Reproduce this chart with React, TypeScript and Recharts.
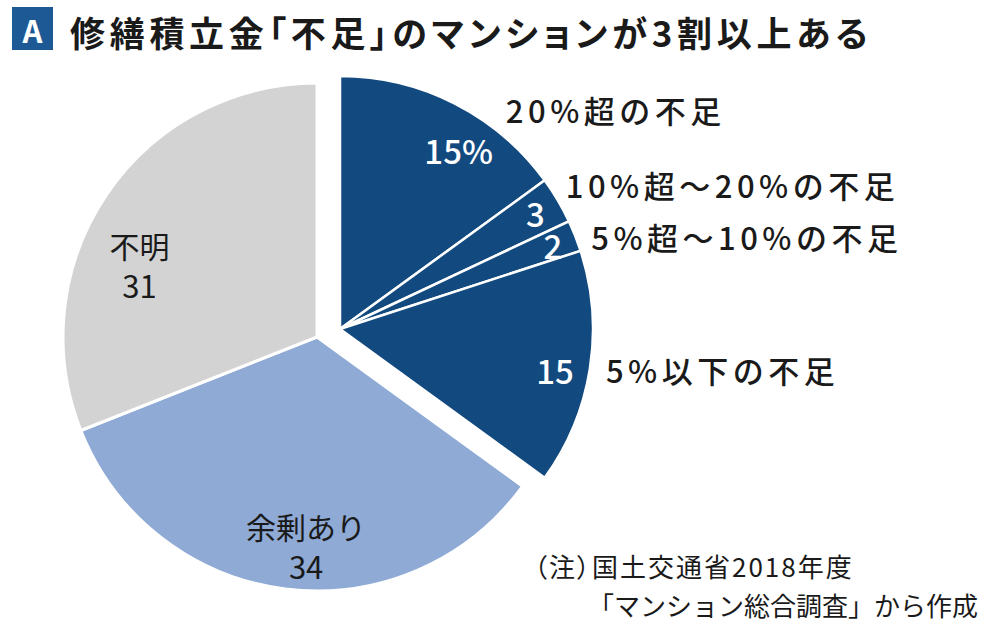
import React from 'react';
import { PieChart, Pie, Cell } from 'recharts';

// Shortfall breakdown (share of condominiums, %)
const shortfallNames = ['20%超の不足', '10%超～20%の不足', '5%超～10%の不足', '5%以下の不足'];
const shortfallValues = [15, 3, 2, 15];

// Remaining categories
const otherNames = ['余剰あり', '不明'];
const otherValues = [34, 31];

const TITLE = '修繕積立金「不足」のマンションが3割以上ある';
const NOTE_LINES = ['（注）国土交通省2018年度', '「マンション総合調査」から作成'];

const NAVY = '#124a80';
const LIGHT_BLUE = '#8eaad5';
const GRAY = '#d3d3d3';
const FONT = "'Noto Sans CJK JP', 'Noto Sans', sans-serif";

const shortfallData = shortfallNames.map((name, i) => ({ name, value: shortfallValues[i] }));
const otherData = otherNames.map((name, i) => ({ name, value: otherValues[i] }));

const total = [...shortfallValues, ...otherValues].reduce((a, b) => a + b, 0);
const shortfallSum = shortfallValues.reduce((a, b) => a + b, 0);
const splitAngle = 90 - (360 * shortfallSum) / total;

const RAD = Math.PI / 180;

// Label placement per slice: radius (px from centre) and an angular nudge (deg)
const innerPlacement: Record<string, { r: number; shift: number }> = {
  '20%超の不足': { r: 215, shift: -6.5 },
  '10%超～20%の不足': { r: 227, shift: 0 },
  '5%超～10%の不足': { r: 229, shift: 0 },
  '5%以下の不足': { r: 219, shift: -1.8 },
  '余剰あり': { r: 208, shift: 4.2 },
  '不明': { r: 192, shift: 11.8 },
};
// Outside category captions: offset from the slice's outer edge point
const outerOffset: Record<string, { dx: number; dy: number }> = {
  '20%超の不足': { dx: 51, dy: 6 },
  '10%超～20%の不足': { dx: 8, dy: -16 },
  '5%超～10%の不足': { dx: 16, dy: 1 },
  '5%以下の不足': { dx: 16, dy: 1 },
};

const shortfallLabel = (props: any) => {
  const { cx, cy, midAngle, outerRadius, index, name, value } = props;
  const p = innerPlacement[name];
  const a = (midAngle + p.shift) * RAD;
  const ix = cx + p.r * Math.cos(a);
  const iy = cy - p.r * Math.sin(a);
  const ma = midAngle * RAD;
  const ex = cx + outerRadius * Math.cos(ma);
  const ey = cy - outerRadius * Math.sin(ma);
  const o = outerOffset[name];
  return (
    <g key={`sl-${index}`}>
      <text
        x={ix}
        y={iy}
        fill="#ffffff"
        fontSize={33}
        fontWeight={500}
        fontFamily={FONT}
        textAnchor="middle"
        dominantBaseline="central"
      >
        {index === 0 ? `${value}%` : value}
      </text>
      <text
        x={ex + o.dx}
        y={ey + o.dy}
        fill="#1a1a1a"
        fontSize={31}
        fontWeight={500}
        fontFamily={FONT}
        letterSpacing={4.5}
        textAnchor="start"
        dominantBaseline="central"
      >
        {name}
      </text>
    </g>
  );
};

// Two-line caption (name over value) inside the lighter slices
const otherLabel = (props: any) => {
  const { cx, cy, midAngle, index, name, value } = props;
  const p = innerPlacement[name];
  const a = (midAngle + p.shift) * RAD;
  const x = cx + p.r * Math.cos(a);
  const y = cy - p.r * Math.sin(a);
  return (
    <text
      key={`ol-${index}`}
      x={x}
      y={y - 19}
      fill="#1a1a1a"
      fontSize={30}
      fontFamily={FONT}
      textAnchor="middle"
      dominantBaseline="central"
    >
      <tspan x={x}>{name}</tspan>
      <tspan x={x} dy={39} fontSize={31}>
        {value}
      </tspan>
    </text>
  );
};

export default function App() {
  return (
    <div style={{ position: 'absolute', left: 0, top: 0, width: 1000, height: 634, background: '#ffffff' }}>
      <PieChart width={1000} height={634} margin={{ top: 0, right: 0, bottom: 0, left: 0 }}>
        <Pie
          data={otherData}
          dataKey="value"
          nameKey="name"
          cx={317}
          cy={337}
          outerRadius={254}
          startAngle={splitAngle}
          endAngle={-270}
          stroke="#ffffff"
          strokeWidth={3}
          label={otherLabel}
          labelLine={false}
          isAnimationActive={false}
        >
          <Cell fill={LIGHT_BLUE} />
          <Cell fill={GRAY} />
        </Pie>
        <Pie
          data={shortfallData}
          dataKey="value"
          nameKey="name"
          cx={340}
          cy={329}
          outerRadius={253}
          startAngle={90}
          endAngle={splitAngle}
          stroke="#ffffff"
          strokeWidth={2.5}
          label={shortfallLabel}
          labelLine={false}
          isAnimationActive={false}
        >
          {shortfallData.map((d) => (
            <Cell key={d.name} fill={NAVY} />
          ))}
        </Pie>
      </PieChart>
      <svg
        width={1000}
        height={634}
        style={{ position: 'absolute', left: 0, top: 0, pointerEvents: 'none' }}
      >
        <rect x={12} y={7} width={41} height={43} fill="#1d5a95" />
        <text
          x={32.5}
          y={29.5}
          fill="#ffffff"
          fontSize={31}
          fontWeight={700}
          fontFamily={FONT}
          textAnchor="middle"
          dominantBaseline="central"
        >
          A
        </text>
        <text
          x={70}
          y={31}
          fill="#1a1a1a"
          fontSize={35}
          fontWeight={700}
          fontFamily={FONT}
          letterSpacing={4.7}
          style={{ fontFeatureSettings: "'palt'" }}
          dominantBaseline="central"
        >
          {TITLE}
        </text>
        <text
          x={534}
          y={565}
          fill="#1a1a1a"
          fontSize={26}
          fontFamily={FONT}
          letterSpacing={2}
          style={{ fontFeatureSettings: "'palt'" }}
          dominantBaseline="central"
        >
          {NOTE_LINES[0]}
        </text>
        <text x={588} y={604} fill="#1a1a1a" fontSize={26} fontFamily={FONT} dominantBaseline="central">
          {NOTE_LINES[1]}
        </text>
      </svg>
    </div>
  );
}
